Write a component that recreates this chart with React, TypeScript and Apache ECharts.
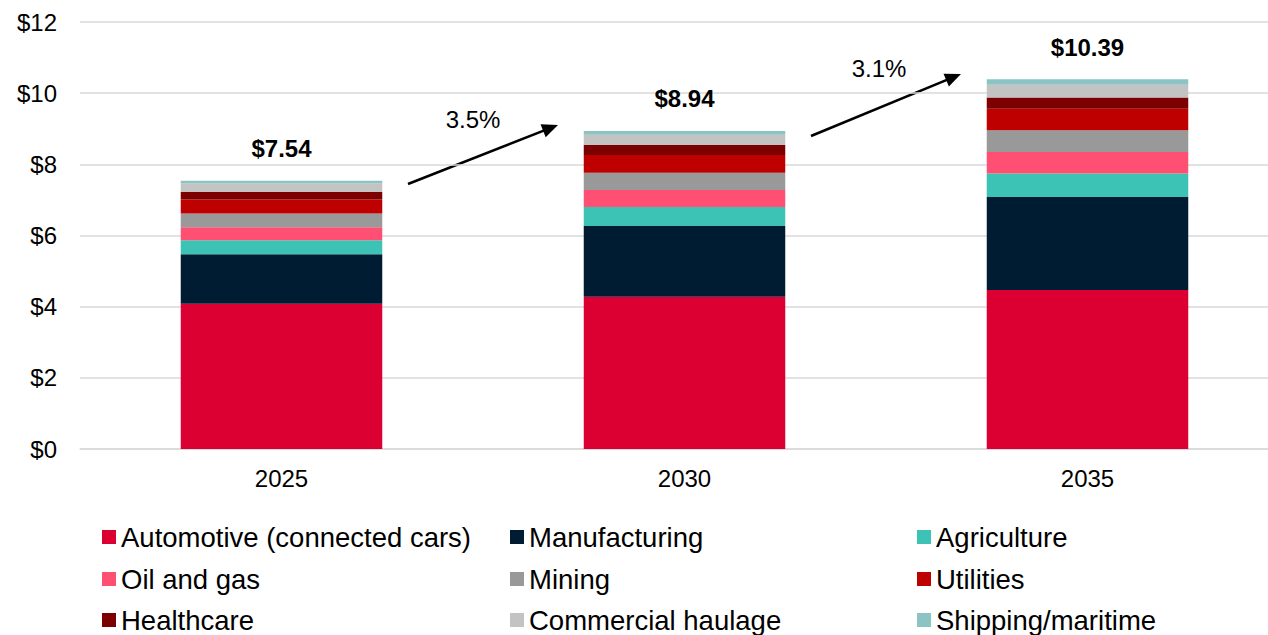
import React, { useEffect, useRef } from "react";
import * as echarts from "echarts";

const years = ["2025", "2030", "2035"];
const totals = [7.54, 8.94, 10.39];
const growthLabels = ["3.5%", "3.1%"];

const automotive = [4.08, 4.28, 4.47];
const manufacturing = [1.39, 1.99, 2.61];
const agriculture = [0.4, 0.53, 0.66];
const oilGas = [0.36, 0.48, 0.61];
const mining = [0.39, 0.48, 0.61];
const utilities = [0.39, 0.5, 0.6];
const healthcare = [0.22, 0.28, 0.32];
const haulage = [0.24, 0.29, 0.36];
const shipping = [0.07, 0.11, 0.15];

const seriesDefs = [
  { name: "Automotive (connected cars)", data: automotive, color: "#DC0032" },
  { name: "Manufacturing", data: manufacturing, color: "#001C32" },
  { name: "Agriculture", data: agriculture, color: "#3CC3B6" },
  { name: "Oil and gas", data: oilGas, color: "#FF4F73" },
  { name: "Mining", data: mining, color: "#999999" },
  { name: "Utilities", data: utilities, color: "#BE0000" },
  { name: "Healthcare", data: healthcare, color: "#7D0000" },
  { name: "Commercial haulage", data: haulage, color: "#C3C3C3" },
  { name: "Shipping/maritime", data: shipping, color: "#8CC3C3" },
];

const legendCols = [
  ["Automotive (connected cars)", "Oil and gas", "Healthcare"],
  ["Manufacturing", "Mining", "Commercial haulage"],
  ["Agriculture", "Utilities", "Shipping/maritime"],
];

const FONT = "'Liberation Sans', Arial, sans-serif";

export default function App() {
  const ref = useRef<HTMLDivElement>(null);
  useEffect(() => {
    if (!ref.current) return;
    const chart = echarts.init(ref.current, undefined, { renderer: "svg" });
    const series: any[] = seriesDefs.map((s, i) => ({
      name: s.name,
      type: "bar",
      stack: "total",
      barWidth: "50%",
      data: s.data,
      itemStyle: { color: s.color },
      label:
        i === seriesDefs.length - 1
          ? {
              show: true,
              position: "top",
              distance: 20,
              formatter: (p: any) => "$" + totals[p.dataIndex].toFixed(2),
              fontFamily: FONT,
              fontSize: 24,
              fontWeight: "bold",
              color: "#000",
            }
          : { show: false },
    }));

    const legendX = [102, 510, 917];
    const legendY = [523, 565, 606];
    const legends: any[] = [];
    legendCols.forEach((names, c) => {
      names.forEach((name, r) => {
        legends.push({
          orient: "horizontal",
          left: legendX[c],
          top: legendY[r],
          data: [name],
          icon: "rect",
          itemWidth: 14,
          itemHeight: 14,
          selectedMode: false,
          padding: 0,
          textStyle: {
            fontFamily: FONT,
            fontSize: 27.5,
            lineHeight: 28,
            color: "#000",
          },
        });
      });
    });

    const arrow = (x1: number, y1: number, x2: number, y2: number) => {
      const dx = x2 - x1;
      const dy = y2 - y1;
      const len = Math.sqrt(dx * dx + dy * dy);
      const ux = dx / len;
      const uy = dy / len;
      const hl = 16;
      const hw = 7;
      const bx = x2 - ux * hl;
      const by = y2 - uy * hl;
      const px = -uy;
      const py = ux;
      return [
        {
          type: "polyline",
          shape: { points: [[x1, y1], [bx + ux * 2, by + uy * 2]] },
          style: { stroke: "#000", lineWidth: 2.5, fill: "none" },
        },
        {
          type: "polygon",
          shape: {
            points: [
              [x2, y2],
              [bx + px * hw, by + py * hw],
              [bx - px * hw, by - py * hw],
            ],
          },
          style: { fill: "#000" },
        },
      ];
    };

    chart.setOption({
      animation: false,
      backgroundColor: "#fff",
      grid: { left: 80, top: 22, width: 1209, height: 427, containLabel: false },
      xAxis: {
        type: "category",
        data: years,
        axisLine: { show: true, lineStyle: { color: "#D9D9D9", width: 1.5 } },
        axisTick: { show: false },
        axisLabel: { fontFamily: FONT, fontSize: 24, color: "#000", margin: 17 },
      },
      yAxis: {
        type: "value",
        min: 0,
        max: 12,
        interval: 2,
        axisLine: { show: false },
        axisTick: { show: false },
        splitLine: { lineStyle: { color: "#D9D9D9", width: 1.5 } },
        axisLabel: {
          fontFamily: FONT,
          fontSize: 24,
          color: "#000",
          margin: 23,
          formatter: (v: number) => "$" + v,
        },
      },
      legend: legends,
      series,
      graphic: [
        ...arrow(408, 184, 558, 125),
        ...arrow(811, 136, 961, 74),
        {
          type: "text",
          x: 473,
          y: 119,
          style: {
            text: growthLabels[0],
            fontFamily: FONT,
            fontSize: 24,
            fill: "#000",
            align: "center",
            verticalAlign: "middle",
          },
        },
        {
          type: "text",
          x: 879,
          y: 68,
          style: {
            text: growthLabels[1],
            fontFamily: FONT,
            fontSize: 24,
            fill: "#000",
            align: "center",
            verticalAlign: "middle",
          },
        },
      ],
    });
    return () => chart.dispose();
  }, []);
  return (
    <div
      style={{
        position: "fixed",
        left: 0,
        top: 0,
        width: 1268,
        height: 635,
        overflow: "hidden",
        background: "#fff",
      }}
    >
      <div ref={ref} style={{ width: 1290, height: 635 }} />
    </div>
  );
}
